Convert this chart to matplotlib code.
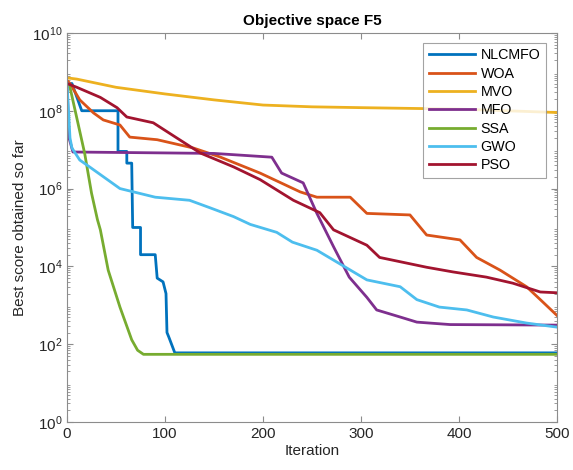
import matplotlib
matplotlib.use("Agg")
import matplotlib.pyplot as plt
from matplotlib.ticker import LogLocator, NullFormatter

plt.rcParams['font.family'] = ['Liberation Sans', 'DejaVu Sans']

# ---- data ----
nlcmfo_x = [0, 5, 15, 52, 52, 61, 61, 66, 67, 75, 75, 90, 92, 98, 101, 102, 104, 110, 500]
nlcmfo_y = [5e8, 5e8, 1e8, 1e8, 9e6, 9e6, 4.5e6, 4.5e6, 1e5, 1e5, 2e4, 2e4, 5e3, 4e3, 2e3, 200, 150, 60, 60]

woa_x = [0, 3, 13, 27, 37, 54, 64, 92, 129, 156, 197, 238, 255, 289, 306, 350, 367, 401, 418, 442, 469, 483, 500]
woa_y = [6e8, 5e8, 1.9e8, 8.8e7, 5.8e7, 4.3e7, 2.1e7, 1.8e7, 1.1e7, 6.5e6, 2.5e6, 8.2e5, 6e5, 6e5, 2.3e5,
         2.1e5, 6.4e4, 4.8e4, 1.7e4, 8e3, 3e3, 1.4e3, 550]

mvo_x = [0, 10, 50, 100, 150, 200, 250, 300, 400, 500]
mvo_y = [7e8, 6.5e8, 4e8, 2.7e8, 1.9e8, 1.4e8, 1.26e8, 1.2e8, 1.1e8, 9e7]

mfo_x = [0, 2, 6, 150, 209, 219, 241, 255, 272, 288, 306, 316, 340, 357, 391, 500]
mfo_y = [5e8, 2e7, 8.7e6, 8e6, 6.4e6, 2.5e6, 1.4e6, 2.3e5, 3.2e4, 5.3e3, 1.6e3, 760, 500, 370, 320, 310]

ssa_x = [0, 3, 18, 25, 31, 34, 42, 54, 66, 72, 78, 500]
ssa_y = [5e8, 4e8, 8e6, 7.6e5, 1.6e5, 8.7e4, 8e3, 900, 130, 70, 55, 55]

gwo_x = [0, 3, 5, 13, 23, 54, 90, 125, 146, 170, 187, 214, 230, 255, 271, 306, 340, 357, 380, 408, 435, 469, 500]
gwo_y = [5e8, 2e7, 1.1e7, 5.4e6, 3.6e6, 1e6, 6e5, 5e5, 3.2e5, 1.9e5, 1.2e5, 7.5e4, 4.2e4, 2.6e4, 1.5e4,
         4.5e3, 3e3, 1.4e3, 900, 760, 500, 350, 275]

pso_x = [0, 10, 34, 51, 61, 88, 112, 136, 170, 197, 231, 258, 272, 306, 319, 367, 394, 428, 455, 483, 500]
pso_y = [5e8, 4e8, 2.2e8, 1.2e8, 6.9e7, 4.9e7, 2e7, 8.2e6, 3.6e6, 1.7e6, 5e5, 2.4e5, 8.7e4, 3.5e4, 1.7e4,
         9.5e3, 7.2e3, 5.3e3, 3.7e3, 2.2e3, 2.1e3]

series = [
    ("NLCMFO", nlcmfo_x, nlcmfo_y, "#0072BD"),
    ("WOA", woa_x, woa_y, "#D95319"),
    ("MVO", mvo_x, mvo_y, "#EDB120"),
    ("MFO", mfo_x, mfo_y, "#7E2F8E"),
    ("SSA", ssa_x, ssa_y, "#77AC30"),
    ("GWO", gwo_x, gwo_y, "#4DBEEE"),
    ("PSO", pso_x, pso_y, "#A2142F"),
]

fig = plt.figure(figsize=(5.73, 4.70), dpi=100)
ax = fig.add_axes([0.117, 0.102, 0.855, 0.828])

for name, xs, ys, c in series:
    ax.plot(xs, ys, color=c, lw=2.0, label=name)

ax.set_yscale('log')
ax.set_xlim(0, 500)
ax.set_ylim(1e0, 1e10)
ax.set_xticks([0, 100, 200, 300, 400, 500])
ax.set_yticks([1e0, 1e2, 1e4, 1e6, 1e8, 1e10])
ax.yaxis.set_minor_locator(LogLocator(base=10, subs=range(2, 10), numticks=50))
ax.yaxis.set_minor_formatter(NullFormatter())

for s in ax.spines.values():
    s.set_color('#8c8c8c')
    s.set_linewidth(0.8)
ax.tick_params(which='both', direction='in', top=True, right=True, colors='#8c8c8c',
               labelcolor='#262626', labelsize=11)
ax.tick_params(which='major', length=4)
ax.tick_params(which='minor', length=2)

ax.set_title("Objective space F5", fontsize=11, fontweight='bold', color='black')
ax.set_xlabel("Iteration", fontsize=11, color='#262626', labelpad=2)
ax.set_ylabel("Best score obtained so far", fontsize=11, color='#262626', labelpad=3)

leg = ax.legend(loc='upper right', fontsize=10.3, frameon=True, fancybox=False,
                edgecolor='#8c8c8c', borderpad=0.4, labelspacing=0.3, handlelength=3.2,
                handletextpad=0.4, borderaxespad=0.0, bbox_to_anchor=(0.978, 0.975))
leg.get_frame().set_linewidth(0.8)

fig.savefig("out.png", dpi=100)
